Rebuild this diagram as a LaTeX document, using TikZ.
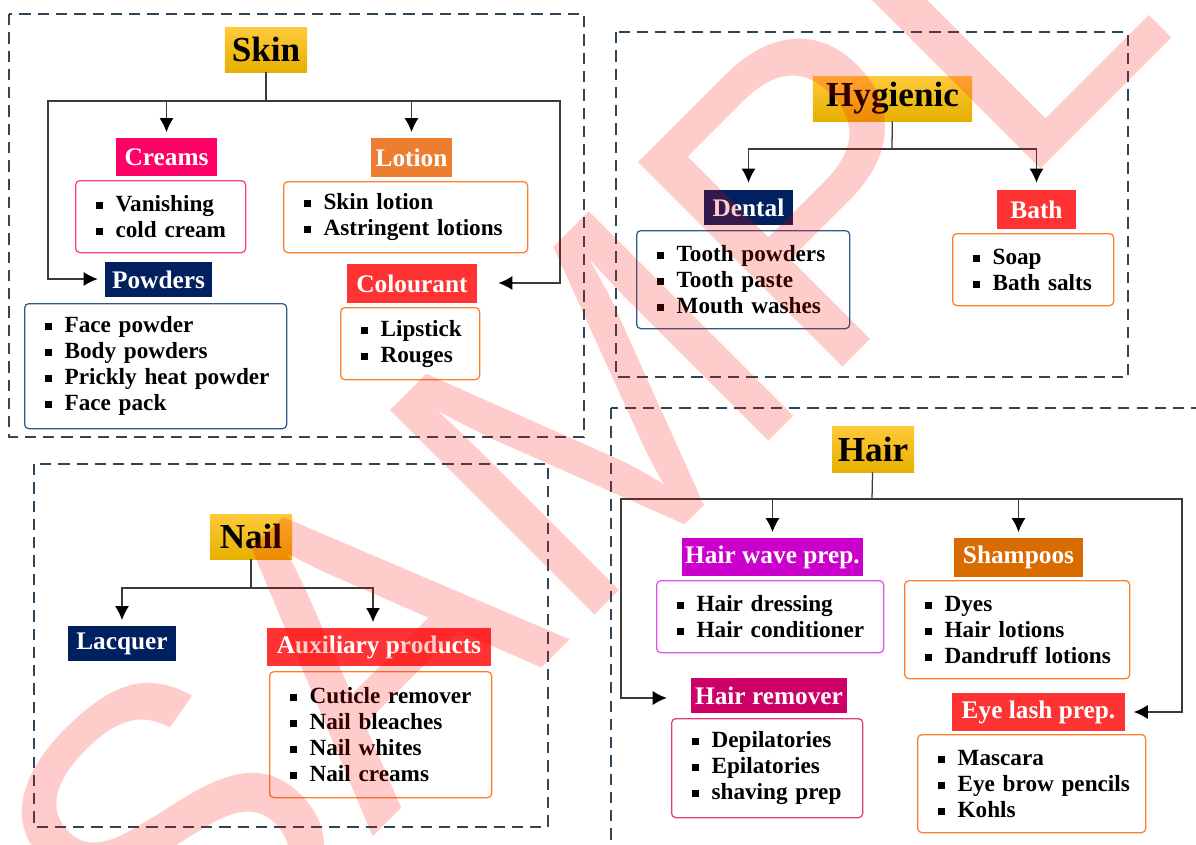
\documentclass[tikz,border=0pt]{standalone}
\usepackage{fontspec}
\setmainfont{Liberation Serif}
\newfontfamily\wmfont{Liberation Sans}
\usepackage{tikz}
\usetikzlibrary{arrows.meta}
\tikzset{>={Latex[length=10pt,width=10pt,color=black]}}
\definecolor{titletop}{HTML}{FFC93C}
\definecolor{titlebot}{HTML}{E6B000}
\definecolor{creamspink}{HTML}{FF0066}
\definecolor{lotionorange}{HTML}{ED7D31}
\definecolor{navy}{HTML}{002060}
\definecolor{brightred}{HTML}{FF3333}
\definecolor{wavemagenta}{HTML}{CC00CC}
\definecolor{shampooorange}{HTML}{D86C00}
\definecolor{removerpink}{HTML}{CC0066}
\definecolor{pinkline}{HTML}{FF3D8B}
\definecolor{orangeline}{HTML}{FF7F27}
\definecolor{blueline}{HTML}{2E5B8A}
\definecolor{magentaline}{HTML}{DD55E8}
\definecolor{removerline}{HTML}{E03C85}
\definecolor{framegray}{HTML}{2F4558}
\definecolor{linegray}{HTML}{3A3A3A}
\newcommand{\itm}[1]{\mbox{\rule[0.11em]{0.3em}{0.3em}\hspace{0.56em}#1}}
\tikzset{
  topbox/.style={top color=titletop, bottom color=titlebot, inner sep=0pt, font=\fontsize{25}{25}\selectfont\bfseries},
  headbox/.style={inner sep=0pt, text=white, font=\fontsize{18}{18}\selectfont\bfseries},
  listbox/.style={draw, rounded corners=3pt, line width=0.9pt, inner xsep=0.5cm, inner ysep=0pt, anchor=north west, align=left, font=\fontsize{16.5}{18.5}\selectfont\bfseries},
  groupframe/.style={draw=framegray, line width=1.4pt, dash pattern=on 8pt off 5pt},
  conn/.style={draw=linegray, line width=0.9pt},
  wmark/.style={rotate=45, anchor=base, text=red, text opacity=0.2, font=\wmfont\fontsize{299}{299}\selectfont}
}
\begin{document}
\begin{tikzpicture}[x=0.025cm, y=-0.025cm]
            \useasboundingbox (0,0) rectangle (1196,844);
            \clip (0,0) rectangle (1196,844);
            \draw[groupframe] (9,14) rectangle (584,437);
            \draw[groupframe] (616,32) rectangle (1128,377);
            \draw[groupframe] (34,464) rectangle (548,827);
            \draw[groupframe] (611,408) rectangle (1230,880);
            % skin
            \node[topbox, minimum width=2.05cm, minimum height=1.125cm] (skin) at (266,49.5) {Skin};
            \node[headbox, fill=creamspink, minimum width=2.525cm, minimum height=0.95cm] (creams) at (166.5,157) {Creams};
            \node[headbox, fill=lotionorange, minimum width=2.025cm, minimum height=0.975cm] (lotion) at (411.5,157.5) {Lotion};
            \node[headbox, fill=navy, minimum width=2.675cm, minimum height=0.875cm] (powders) at (158.5,279.5) {Powders};
            \node[headbox, fill=brightred, minimum width=3.25cm, minimum height=0.975cm] (colourant) at (412,283.5) {Colourant};
            \node[listbox, draw=pinkline, text width=3.25cm, minimum height=1.8cm] (creamslist) at (75,180) {\itm{Vanishing}\\ \itm{cold cream}};
            \node[listbox, draw=orangeline, text width=5.1cm, minimum height=1.775cm] (lotionlist) at (283,181) {\itm{Skin lotion}\\ \itm{Astringent lotions}};
            \node[listbox, draw=blueline, text width=5.55cm, minimum height=3.125cm] (powderlist) at (24,303) {\itm{Face powder}\\ \itm{Body powders}\\ \itm{Prickly heat powder}\\ \itm{Face pack}};
            \node[listbox, draw=orangeline, text width=2.475cm, minimum height=1.8cm] (colourlist) at (340,307) {\itm{Lipstick}\\ \itm{Rouges}};
            \coordinate (skinbar) at (266,101);
            \coordinate (skinleft) at (48,279);
            \coordinate (skinright) at (560,283);
            \draw[conn] (skin) -- (skinbar);
            \draw[conn, ->, shorten >=4pt] (skinbar) -| (creams);
            \draw[conn, ->, shorten >=4pt] (skinbar) -| (lotion);
            \draw[conn, ->, shorten >=5pt] (skinbar) -| (skinleft) -- (skinleft -| powders.west);
            \draw[conn, ->, shorten >=15pt] (skinbar) -| (skinright) -- (skinright -| colourant.east);
            % hygienic
            \node[topbox, minimum width=3.975cm, minimum height=1.125cm] (hygienic) at (892.5,98.5) {Hygienic};
            \node[headbox, fill=navy, minimum width=2.225cm, minimum height=0.875cm] (dental) at (748.5,207.5) {Dental};
            \node[headbox, fill=brightred, minimum width=1.975cm, minimum height=0.975cm] (bath) at (1036.5,209.5) {Bath};
            \node[listbox, draw=blueline, text width=4.325cm, minimum height=2.45cm] (dentallist) at (636,230) {\itm{Tooth powders}\\ \itm{Tooth paste}\\ \itm{Mouth washes}};
            \node[listbox, draw=orangeline, text width=3.025cm, minimum height=1.8cm] (bathlist) at (952,233) {\itm{Soap}\\ \itm{Bath salts}};
            \coordinate (hygbar) at (892,149);
            \draw[conn] (hygienic) -- (hygbar);
            \draw[conn, ->, shorten >=5pt] (hygbar) -| (dental);
            \draw[conn, ->, shorten >=5pt] (hygbar) -| (bath);
            % nail
            \node[topbox, minimum width=2.05cm, minimum height=1.125cm] (nail) at (251,536.5) {Nail};
            \node[headbox, fill=navy, minimum width=2.7cm, minimum height=0.875cm] (lacquer) at (122,643.5) {Lacquer};
            \node[headbox, fill=brightred, minimum width=5.6cm, minimum height=0.95cm] (aux) at (379,647) {Auxiliary products};
            \node[listbox, draw=orangeline, text width=4.55cm, minimum height=3.15cm] (auxlist) at (269,671) {\itm{Cuticle remover}\\ \itm{Nail bleaches}\\ \itm{Nail whites}\\ \itm{Nail creams}};
            \coordinate (nailbar) at (251,588);
            \draw[conn] (nail) -- (nailbar);
            \draw[conn, ->, shorten >=4pt] (nailbar) -| (lacquer);
            \draw[conn, ->, shorten >=4pt] (nailbar) -| ([xshift=-0.15cm]aux.north);
            % hair
            \node[topbox, minimum width=2.05cm, minimum height=1.15cm] (hair) at (873,449) {Hair};
            \node[headbox, fill=wavemagenta, minimum width=4.525cm, minimum height=0.95cm] (wave) at (772.5,557) {Hair wave prep.};
            \node[headbox, fill=shampooorange, minimum width=3.225cm, minimum height=0.975cm] (shampoos) at (1018.5,557.5) {Shampoos};
            \node[headbox, fill=removerpink, minimum width=3.9cm, minimum height=0.875cm] (remover) at (769,695.5) {Hair remover};
            \node[headbox, fill=brightred, minimum width=4.325cm, minimum height=0.95cm] (eyelash) at (1038.5,712) {Eye lash prep.};
            \node[listbox, draw=magentaline, text width=4.675cm, minimum height=1.8cm] (wavelist) at (656,580) {\itm{Hair dressing}\\ \itm{Hair conditioner}};
            \node[listbox, draw=orangeline, text width=4.625cm, minimum height=2.45cm] (shampoolist) at (904,580) {\itm{Dyes}\\ \itm{Hair lotions}\\ \itm{Dandruff lotions}};
            \node[listbox, draw=removerline, text width=3.775cm, minimum height=2.475cm] (removerlist) at (671,718) {\itm{Depilatories}\\ \itm{Epilatories}\\ \itm{shaving prep}};
            \node[listbox, draw=orangeline, text width=4.7cm, minimum height=2.45cm] (eyelashlist) at (917,734) {\itm{Mascara}\\ \itm{Eye brow pencils}\\ \itm{Kohls}};
            \coordinate (hairbar) at (872,499);
            \coordinate (hairleft) at (621,698);
            \coordinate (hairright) at (1182,712);
            \draw[conn] (hair) -- (hairbar);
            \draw[conn, ->, shorten >=4pt] (hairbar) -| (wave);
            \draw[conn, ->, shorten >=4pt] (hairbar) -| (shampoos);
            \draw[conn, ->, shorten >=17pt] (hairbar) -| (hairleft) -- (hairleft -| remover.west);
            \draw[conn, ->, shorten >=6pt] (hairbar) -| (hairright) -- (hairright -| eyelash.east);
            % watermark
            \node[wmark] (sample) at (777,433) {SAMPLE};
        \end{tikzpicture}
\end{document}
